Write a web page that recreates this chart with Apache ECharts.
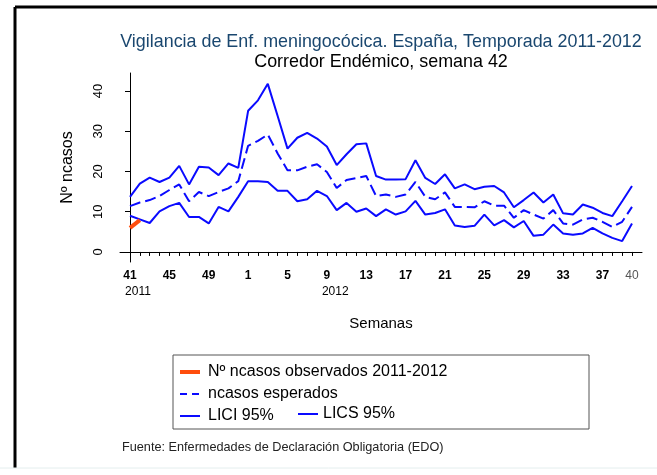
<!DOCTYPE html>
<html>
<head>
<meta charset="utf-8">
<script src="https://cdn.jsdelivr.net/npm/echarts@6/dist/echarts.min.js"></script>
<style>
    html, body { margin: 0; padding: 0; background: #fff; }
    #chart { width: 657px; height: 475px; }
</style>
</head>
<body>
<div id="chart"></div>
<script>
    // semanas 41-52 de 2011 y 1-40 de 2012
    var semanas = [41, 42, 43, 44, 45, 46, 47, 48, 49, 50, 51, 52,
        1, 2, 3, 4, 5, 6, 7, 8, 9, 10, 11, 12, 13, 14, 15, 16, 17, 18, 19, 20,
        21, 22, 23, 24, 25, 26, 27, 28, 29, 30, 31, 32, 33, 34, 35, 36, 37, 38, 39, 40];
    var etiquetasSemana = [0, 4, 8, 12, 16, 20, 24, 28, 32, 36, 40, 44, 48, 51];
    var etiquetasAnio = ['2011', '2012'];
    var posAnio = [-0.5, 19.5];
    var ticksY = [0, 10, 20, 30, 40];

    var observados = [6.0, 7.9];
    var esperados = [11.4, 12.3, 12.9, 13.9, 15.4, 16.8, 12.6, 14.9, 13.9, 14.9, 15.8, 17.6,
        26.4, 27.6, 29.2, 24.5, 20.3, 20.3, 21.2, 21.8, 19.9, 15.9,
        17.9, 18.4, 18.9, 13.9, 14.3, 13.7, 14.3, 17.4, 13.7, 13.1,
        14.8, 11.2, 11.2, 11.1, 12.6, 11.5, 11.5, 8.5, 10.4, 9.3,
        8.3, 10.4, 7.1, 6.8, 8.1, 8.5, 7.5, 6.2, 7.5, 11.2];
    var lici = [9.0, 8.1, 7.2, 10.1, 11.4, 12.2, 8.7, 8.7, 7.1, 11.2, 10.1, 13.7,
        17.6, 17.6, 17.4, 15.2, 15.2, 12.6, 13.1, 15.2, 13.9, 10.4,
        12.2, 10.0, 10.8, 8.9, 10.6, 9.3, 10.1, 12.7, 9.3, 9.7,
        10.6, 6.6, 6.2, 6.5, 9.3, 6.6, 7.9, 6.1, 7.7, 4.0,
        4.3, 6.8, 4.6, 4.3, 4.6, 6.0, 4.6, 3.5, 2.7, 7.1];
    var lics = [13.7, 17.0, 18.5, 17.4, 18.5, 21.4, 16.8, 21.2, 21.0, 19.1, 22.0, 20.9,
        35.1, 37.7, 41.8, 33.8, 25.7, 28.4, 29.6, 28.2, 26.2, 21.6,
        24.3, 26.8, 27.0, 18.9, 18.0, 18.0, 18.1, 22.8, 18.4, 16.9,
        19.3, 15.8, 16.8, 15.6, 16.2, 16.4, 14.8, 11.1, 12.9, 14.8,
        12.3, 14.3, 9.6, 9.3, 11.8, 11.0, 9.7, 8.9, 12.6, 16.4];

    var fuente = '"Liberation Sans", Arial, sans-serif';
    var azul = '#0a0aff';
    var naranja = '#ff4d0d';

    function pares(arr) {
        return arr.map(function (v, i) { return [i, v]; });
    }
    var todosTicks = semanas.map(function (s, i) { return i; });

    var myChart = echarts.init(document.getElementById('chart'));
    var option = {
        animation: false,
        backgroundColor: '#fff',
        textStyle: { fontFamily: fuente },
        title: [
            {
                text: 'Vigilancia de Enf. meningocócica. España, Temporada 2011-2012',
                left: 376, top: 28, textAlign: 'center',
                textStyle: { fontSize: 17.9, fontWeight: 'normal', color: '#1a476f', fontFamily: fuente }
            },
            {
                text: 'Corredor Endémico, semana 42',
                left: 376, top: 48, textAlign: 'center',
                textStyle: { fontSize: 17.9, fontWeight: 'normal', color: '#000', fontFamily: fuente }
            },
            {
                text: 'Fuente: Enfermedades de Declaración Obligatoria (EDO)',
                left: 117, top: 436,
                textStyle: { fontSize: 12.7, fontWeight: 'normal', color: '#222', fontFamily: fuente }
            }
        ],
        legend: [
            {
                orient: 'vertical', left: 173, top: 359,
                itemWidth: 20, itemHeight: 10, itemGap: 6,
                itemStyle: { opacity: 0 },
                data: [
                    { name: 'Nº ncasos observados 2011-2012', lineStyle: { width: 4 } },
                    { name: 'ncasos esperados', lineStyle: { width: 2, type: [7, 5] } },
                    { name: 'LICI 95%', lineStyle: { width: 2 } }
                ],
                textStyle: { fontSize: 16, color: '#000', fontFamily: fuente, padding: [0, 0, 0, 3] }
            },
            {
                orient: 'vertical', left: 292, top: 401,
                itemWidth: 20, itemHeight: 10,
                itemStyle: { opacity: 0 },
                data: [{ name: 'LICS 95%', lineStyle: { width: 2 } }],
                textStyle: { fontSize: 16, color: '#000', fontFamily: fuente }
            }
        ],
        grid: { left: 120, right: 15, top: 73, bottom: 213 },
        xAxis: [
            {
                type: 'value', min: -1.016, max: 52.016,
                name: 'Semanas', nameLocation: 'middle', nameGap: 54,
                nameTextStyle: { fontSize: 15, color: '#000', fontFamily: fuente },
                axisLine: { lineStyle: { color: '#000', width: 1 } },
                axisTick: { length: 4, lineStyle: { color: '#000' }, customValues: todosTicks },
                splitLine: { show: false },
                axisLabel: {
                    customValues: etiquetasSemana, margin: 8,
                    formatter: function (v) {
                        var i = Math.round(v);
                        return i === semanas.length - 1 ? '{g|' + semanas[i] + '}' : '{b|' + semanas[i] + '}';
                    },
                    rich: {
                        b: { fontSize: 12, fontWeight: 'bold', color: '#000', fontFamily: fuente },
                        g: { fontSize: 12, color: '#555', fontFamily: fuente }
                    }
                }
            },
            {
                type: 'value', min: -1.016, max: 52.016, position: 'bottom',
                axisLine: { show: false }, axisTick: { show: false }, splitLine: { show: false },
                axisLabel: {
                    customValues: posAnio, margin: 24, align: 'left',
                    fontSize: 12, color: '#000', fontFamily: fuente,
                    formatter: function (v) { return etiquetasAnio[posAnio.indexOf(v)]; }
                }
            }
        ],
        yAxis: {
            type: 'value', min: -2.5, max: 44.5,
            name: 'Nº ncasos', nameLocation: 'middle', nameGap: 44,
            nameTextStyle: { fontSize: 16, color: '#000', fontFamily: fuente },
            axisLine: { show: true, lineStyle: { color: '#000', width: 1 } },
            axisTick: { show: true, length: 5, lineStyle: { color: '#000' }, customValues: ticksY },
            splitLine: { show: false },
            axisLabel: {
                customValues: ticksY, rotate: 90, margin: 15,
                fontSize: 13, color: '#000', fontFamily: fuente
            }
        },
        series: [
            {
                name: 'LICI 95%', type: 'line', symbol: 'none',
                lineStyle: { color: azul, width: 2 }, itemStyle: { color: azul },
                data: pares(lici)
            },
            {
                name: 'LICS 95%', type: 'line', symbol: 'none',
                lineStyle: { color: azul, width: 2 }, itemStyle: { color: azul },
                data: pares(lics)
            },
            {
                name: 'ncasos esperados', type: 'line', symbol: 'none',
                lineStyle: { color: azul, width: 2, type: [11, 5] }, itemStyle: { color: azul },
                data: pares(esperados)
            },
            {
                name: 'Nº ncasos observados 2011-2012', type: 'line', symbol: 'none', z: 5,
                lineStyle: { color: naranja, width: 4 }, itemStyle: { color: naranja },
                data: pares(observados)
            }
        ],
        graphic: [
            { type: 'rect', shape: { x: 173, y: 355, width: 416, height: 74 },
              style: { fill: 'none', stroke: '#555', lineWidth: 1 } },
            { type: 'line', shape: { x1: 15, y1: 7, x2: 657, y2: 7 }, style: { stroke: '#000', lineWidth: 3 } },
            { type: 'line', shape: { x1: 15, y1: 7, x2: 15, y2: 468 }, style: { stroke: '#000', lineWidth: 3 } },
            { type: 'line', shape: { x1: 0, y1: 468, x2: 657, y2: 468 }, style: { stroke: '#e4eeee', lineWidth: 1 } }
        ]
    };
    myChart.setOption(option);
</script>
</body>
</html>
